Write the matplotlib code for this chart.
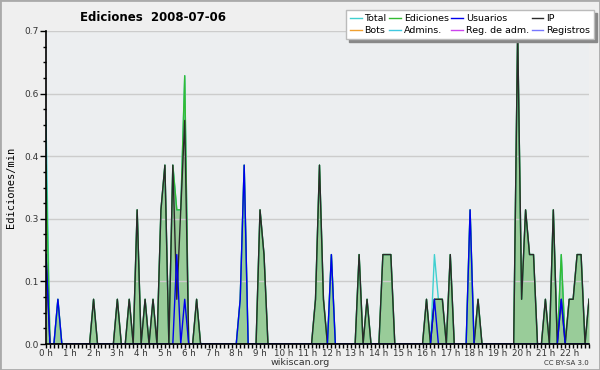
import numpy as np
import matplotlib.pyplot as plt
from matplotlib.patches import Rectangle
from matplotlib.ticker import MultipleLocator

# datos cada 10 minutos (00:00 .. 22:50), ediciones/min
minutos = np.arange(0, 1380, 10)

ip = [0.2, 0, 0, 0, 0, 0, 0, 0, 0, 0, 0, 0,
      0.1, 0, 0, 0, 0, 0, 0.1, 0, 0, 0.1, 0, 0.3,
      0, 0.1, 0, 0.1, 0, 0.3, 0.4, 0, 0.4, 0.1, 0.3, 0.5,
      0, 0, 0.1, 0, 0, 0, 0, 0, 0, 0, 0, 0,
      0, 0, 0, 0, 0, 0, 0.3, 0.2, 0, 0, 0, 0,
      0, 0, 0, 0, 0, 0, 0, 0, 0.1, 0.4, 0.1, 0,
      0, 0, 0, 0, 0, 0, 0, 0.2, 0, 0.1, 0, 0,
      0, 0.2, 0.2, 0.2, 0, 0, 0, 0, 0, 0, 0, 0,
      0.1, 0, 0.1, 0.1, 0.1, 0, 0.2, 0, 0, 0, 0, 0,
      0, 0.1, 0, 0, 0, 0, 0, 0, 0, 0, 0, 0.7,
      0.1, 0.3, 0.2, 0.2, 0, 0, 0.1, 0, 0.3, 0, 0.1, 0,
      0.1, 0.1, 0.2, 0.2, 0, 0.1]

usuarios = [0.2, 0, 0, 0.1, 0, 0, 0, 0, 0, 0, 0, 0,
            0, 0, 0, 0, 0, 0, 0, 0, 0, 0, 0, 0,
            0, 0, 0, 0, 0, 0, 0, 0, 0, 0.2, 0, 0.1,
            0, 0, 0, 0, 0, 0, 0, 0, 0, 0, 0, 0,
            0, 0.1, 0.4, 0, 0, 0, 0, 0, 0, 0, 0, 0,
            0, 0, 0, 0, 0, 0, 0, 0, 0, 0, 0, 0,
            0.2, 0, 0, 0, 0, 0, 0, 0, 0, 0, 0, 0,
            0, 0, 0, 0, 0, 0, 0, 0, 0, 0, 0, 0,
            0, 0, 0.1, 0, 0, 0, 0, 0, 0, 0, 0, 0.3,
            0, 0, 0, 0, 0, 0, 0, 0, 0, 0, 0, 0,
            0, 0, 0, 0, 0, 0, 0, 0, 0, 0, 0.1, 0,
            0, 0, 0, 0, 0, 0]

ediciones = [0.4, 0, 0, 0.1, 0, 0, 0, 0, 0, 0, 0, 0,
             0.1, 0, 0, 0, 0, 0, 0.1, 0, 0, 0.1, 0, 0.3,
             0, 0.1, 0, 0.1, 0, 0.3, 0.4, 0, 0.4, 0.3, 0.3, 0.6,
             0, 0, 0.1, 0, 0, 0, 0, 0, 0, 0, 0, 0,
             0, 0.1, 0.4, 0, 0, 0, 0.3, 0.2, 0, 0, 0, 0,
             0, 0, 0, 0, 0, 0, 0, 0, 0.1, 0.4, 0.1, 0,
             0.2, 0, 0, 0, 0, 0, 0, 0.2, 0, 0.1, 0, 0,
             0, 0.2, 0.2, 0.2, 0, 0, 0, 0, 0, 0, 0, 0,
             0.1, 0, 0.1, 0.1, 0.1, 0, 0.2, 0, 0, 0, 0, 0.3,
             0, 0.1, 0, 0, 0, 0, 0, 0, 0, 0, 0, 0.7,
             0.1, 0.3, 0.2, 0.2, 0, 0, 0.1, 0, 0.3, 0, 0.2, 0,
             0.1, 0.1, 0.2, 0.2, 0, 0.1]

total = [0.5, 0, 0, 0.1, 0, 0, 0, 0, 0, 0, 0, 0,
         0.1, 0, 0, 0, 0, 0, 0.1, 0, 0, 0.1, 0, 0.3,
         0, 0.1, 0, 0.1, 0, 0.3, 0.4, 0, 0.4, 0.3, 0.3, 0.6,
         0, 0, 0.1, 0, 0, 0, 0, 0, 0, 0, 0, 0,
         0, 0.1, 0.4, 0, 0, 0, 0.3, 0.2, 0, 0, 0, 0,
         0, 0, 0, 0, 0, 0, 0, 0, 0.1, 0.4, 0.1, 0,
         0.2, 0, 0, 0, 0, 0, 0, 0.2, 0, 0.1, 0, 0,
         0, 0.2, 0.2, 0.2, 0, 0, 0, 0, 0, 0, 0, 0,
         0.1, 0, 0.2, 0.1, 0.1, 0, 0.2, 0, 0, 0, 0, 0.3,
         0, 0.1, 0, 0, 0, 0, 0, 0, 0, 0, 0, 0.7,
         0.1, 0.3, 0.2, 0.2, 0, 0, 0.1, 0, 0.3, 0, 0.2, 0,
         0.1, 0.1, 0.2, 0.2, 0, 0.1]

# series sin actividad ese dia
bots = [0] * len(minutos)
admins = [0] * len(minutos)
reg_adm = [0] * len(minutos)
registros = [0] * len(minutos)

horas = minutos / 60
etiquetas_x = [f"{h} h" for h in range(23)]

fig = plt.figure(figsize=(6, 3.7), dpi=100, facecolor='#efefef')
ax = fig.add_axes([46/600, 1 - 344/370, (589 - 46)/600, (344 - 31)/370])
ax.set_facecolor('#eceef0')

ax.fill_between(horas, ediciones, color='#99cc99', lw=0, zorder=1)
l_bots, = ax.plot(horas, bots, color='#f0a030', lw=1, zorder=1.2)
l_adm, = ax.plot(horas, admins, color='#40c8e0', lw=1, zorder=1.2)
l_reg, = ax.plot(horas, reg_adm, color='#cc44ee', lw=1, zorder=1.2)
l_regs, = ax.plot(horas, registros, color='#7777ff', lw=1, zorder=1.2)
l_total, = ax.plot(horas, total, color='#40d0d0', lw=1, zorder=2)
l_ed, = ax.plot(horas, ediciones, color='#33bb33', lw=1, zorder=2.1)
l_ip, = ax.plot(horas, ip, color='#2a2a2a', lw=1, zorder=2.2)
l_us, = ax.plot(horas, usuarios, color='#0000ee', lw=1, zorder=2.3)

ax.set_xlim(0, horas[-1])
ax.set_ylim(0, 0.7)
ax.set_xticks(range(23))
ax.set_xticklabels(etiquetas_x)
ax.xaxis.set_minor_locator(MultipleLocator(1/6))
yt = np.arange(0, 0.71, 0.14)
ax.set_yticks(yt)
ax.set_yticklabels([f"{v:.1f}" for v in yt])
ax.yaxis.set_minor_locator(MultipleLocator(0.035))

ax.set_axisbelow('line')
ax.yaxis.grid(True, color='#cccccc', lw=1)
for s in ['top', 'right']:
    ax.spines[s].set_visible(False)
for s in ['left', 'bottom']:
    ax.spines[s].set_linewidth(1.2)

ax.tick_params(axis='x', which='both', direction='out', length=3, width=1,
               labelsize=6.3, pad=0.5, colors='black', labelcolor='#333333')
ax.tick_params(axis='y', which='major', direction='out', length=4, width=1,
               labelsize=6.5, pad=1, labelcolor='#333333')
ax.tick_params(axis='y', which='minor', direction='out', length=2.5, width=1)

fig.text(0.255, 0.953, 'Ediciones  2008-07-06', ha='center', va='center',
         fontsize=8.5, fontweight='bold')
fig.text(0.018, 0.493, 'Ediciones/min', rotation=90, ha='center', va='center',
         fontsize=7.5, family='DejaVu Sans Mono')
fig.text(0.5, 0.02, 'wikiscan.org', ha='center', va='center', fontsize=6.8,
         color='#333333')
fig.text(0.982, 0.02, 'CC BY-SA 3.0', ha='right', va='center', fontsize=5,
         color='#333333')

handles = [l_total, l_bots, l_ed, l_adm, l_us, l_reg, l_ip, l_regs]
labels = ['Total', 'Bots', 'Ediciones', 'Admins.', 'Usuarios',
          'Reg. de adm.', 'IP', 'Registros']
leg = fig.legend(handles, labels, ncol=4, loc='upper right',
                 bbox_to_anchor=(0.99, 0.973), fontsize=6.8, fancybox=False,
                 shadow={'color': '#888888', 'alpha': 1}, handlelength=1.2,
                 handletextpad=0.3, columnspacing=0.3, labelspacing=0.3,
                 borderpad=0.45, borderaxespad=0)
leg.get_frame().set_edgecolor('#bbbbbb')
leg.get_frame().set_facecolor('white')
leg.get_frame().set_alpha(1)

fig.patches.append(Rectangle((0, 0), 1, 1, transform=fig.transFigure,
                             fill=False, edgecolor='#aaaaaa', lw=2))

fig.savefig('out.png', dpi=100, facecolor=fig.get_facecolor())
